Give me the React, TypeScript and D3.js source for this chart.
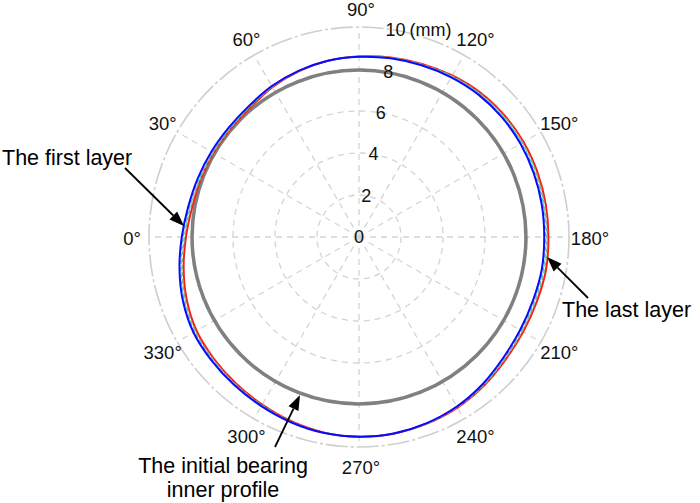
import * as d3 from 'd3';

// polar angles (deg): 0 at left, increasing clockwise (90 top, 180 right)
const angles = d3.range(0, 360, 10);

// radius (mm) of each measured layer at the angles above
const firstLayer = [8.44, 8.26, 8.17, 8.12, 8.1, 8.15, 8.3, 8.42, 8.52, 8.58, 8.64, 8.7, 8.78, 8.85, 8.88, 8.88, 8.86, 8.84, 8.82, 8.84, 8.82, 8.86, 8.96, 9.15, 9.32, 9.43, 9.5, 9.51, 9.48, 9.4, 9.3, 9.22, 9.16, 9.1, 8.92, 8.68];
const secondLayer = [8.37, 8.19, 8.11, 8.06, 8.05, 8.12, 8.28, 8.41, 8.52, 8.58, 8.65, 8.72, 8.82, 8.9, 8.93, 8.94, 8.92, 8.91, 8.89, 8.91, 8.89, 8.92, 9.01, 9.19, 9.34, 9.44, 9.5, 9.51, 9.47, 9.38, 9.27, 9.18, 9.11, 9.04, 8.85, 8.61];
const thirdLayer = [8.31, 8.14, 8.05, 8.02, 8.02, 8.09, 8.26, 8.4, 8.52, 8.59, 8.67, 8.75, 8.85, 8.93, 8.98, 8.99, 8.98, 8.96, 8.95, 8.97, 8.94, 8.97, 9.05, 9.22, 9.36, 9.45, 9.51, 9.51, 9.47, 9.37, 9.25, 9.15, 9.07, 8.99, 8.8, 8.55];
const lastLayer = [8.24, 8.07, 8.02, 8.0, 8.0, 8.05, 8.24, 8.39, 8.52, 8.59, 8.68, 8.77, 8.88, 8.98, 9.03, 9.05, 9.04, 9.03, 9.02, 9.04, 9.01, 9.03, 9.1, 9.25, 9.38, 9.46, 9.51, 9.51, 9.46, 9.35, 9.22, 9.11, 9.02, 8.93, 8.73, 8.48];
const initialRadius = 7.95;

const radialTicks = [2, 4, 6, 8, 10];
const radialLabels = [0, 2, 4, 6, 8, 10];
const angleTicks = d3.range(0, 360, 30);

const W = 700;
const H = 503;
const cx = 359;
const cy = 237;
const font = "'Liberation Sans', Arial, sans-serif";

const r = d3.scaleLinear().domain([0, 10]).range([0, 210]);
const toRad = (deg: number) => ((deg - 90) * Math.PI) / 180; // d3 radial: 0 at top, clockwise

const pt = (deg: number, px: number): [number, number] => {
  const a = toRad(deg);
  return [cx + px * Math.sin(a), cy - px * Math.cos(a)];
};

const radial = d3
  .lineRadial<number>()
  .angle((_, i) => toRad(angles[i]))
  .radius((d) => r(d))
  .curve(d3.curveCatmullRomClosed.alpha(0.5));

function Arrow({ x1, y1, x2, y2 }: { x1: number; y1: number; x2: number; y2: number }) {
  const ang = Math.atan2(y2 - y1, x2 - x1);
  const len = 15;
  const half = 5.5;
  const bx = x2 - len * Math.cos(ang);
  const by = y2 - len * Math.sin(ang);
  const p1 = [bx + half * Math.sin(ang), by - half * Math.cos(ang)];
  const p2 = [bx - half * Math.sin(ang), by + half * Math.cos(ang)];
  return (
    <g>
      <line x1={x1} y1={y1} x2={bx} y2={by} stroke="#000" strokeWidth={1.8} />
      <polygon points={`${x2},${y2} ${p1[0]},${p1[1]} ${p2[0]},${p2[1]}`} fill="#000" />
    </g>
  );
}

export default function App() {
  return (
    <svg
      width={W}
      height={H}
      style={{ position: 'absolute', left: 0, top: 0, background: '#fff' }}
      fontFamily={font}
    >
      <g transform={`translate(${cx},${cy})`}>
        {/* spokes */}
        {angleTicks.map((a) => {
          const t = toRad(a);
          return (
            <line
              key={a}
              x1={0}
              y1={0}
              x2={r(10) * Math.sin(t)}
              y2={-r(10) * Math.cos(t)}
              stroke="#d4d4d4"
              strokeWidth={1.3}
              strokeDasharray="6 5"
            />
          );
        })}
        {/* rings */}
        {radialTicks.map((v) => (
          <circle
            key={v}
            r={r(v)}
            fill="none"
            stroke={v === 10 ? '#cfcfcf' : '#d4d4d4'}
            strokeWidth={v === 10 ? 1.6 : 1.3}
            strokeDasharray={v === 10 ? '22 3 3 3' : '6 5'}
          />
        ))}

        {/* initial bearing inner profile */}
        <circle r={r(initialRadius)} fill="none" stroke="#808080" strokeWidth={3.5} />

        {/* layers */}
        <path d={radial(lastLayer) ?? ''} fill="none" stroke="#ff1a1a" strokeWidth={2} />
        <path d={radial(thirdLayer) ?? ''} fill="none" stroke="#6cc06c" strokeWidth={1.6} strokeDasharray="4 3" />
        <path d={radial(secondLayer) ?? ''} fill="none" stroke="#55c8dc" strokeWidth={1.6} strokeDasharray="4 3" strokeDashoffset={3} />
        <path d={radial(firstLayer) ?? ''} fill="none" stroke="#0a0aff" strokeWidth={2} />
      </g>

      {/* radial labels */}
      {radialLabels.map((v) => {
        const [x, y] = pt(100, r(v));
        return (
          <g key={v}>
            <text x={x} y={y} textAnchor="middle" dominantBaseline="central" fontSize={18} fill="#111">
              {v}
            </text>
            {v === 10 && (
              <text x={x + 14} y={y} dominantBaseline="central" fontSize={18} fill="#111">
                (mm)
              </text>
            )}
          </g>
        );
      })}

      {/* angle labels */}
      {angleTicks.map((a) => {
        const [x, y] = pt(a, 229);
        return (
          <text key={a} x={x + 2} y={y + 1} textAnchor="middle" dominantBaseline="central" fontSize={18.5} fill="#111">
            {`${a}°`}
          </text>
        );
      })}

      {/* annotations */}
      <text x={2} y={165} fontSize={21.5} fill="#000">The first layer</text>
      <Arrow x1={125} y1={168} x2={184} y2={226} />

      <text x={562} y={317} fontSize={21.5} fill="#000">The last layer</text>
      <Arrow x1={588} y1={298} x2={547} y2={257} />

      <text x={223} y={473} textAnchor="middle" fontSize={21.5} fill="#000">The initial bearing</text>
      <text x={223} y={497} textAnchor="middle" fontSize={21.5} fill="#000">inner profile</text>
      <Arrow x1={275} y1={447} x2={300} y2={395} />
    </svg>
  );
}
